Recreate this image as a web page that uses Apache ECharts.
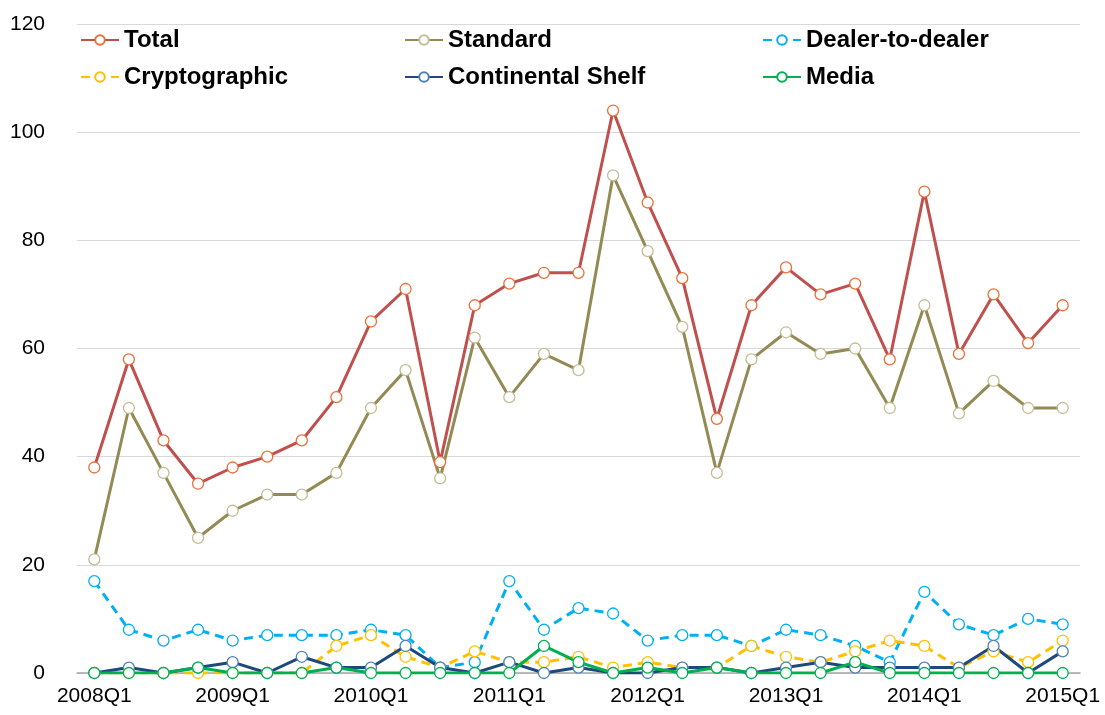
<!DOCTYPE html>
<html>
<head>
<meta charset="utf-8">
<script src="https://cdn.jsdelivr.net/npm/echarts@6/dist/echarts.min.js"></script>
<style>
  html, body { margin: 0; padding: 0; background: #fff; }
  #chart-box { width: 1105px; height: 715px; }
</style>
</head>
<body>
<div id="chart-box"></div>
<script>
const quarters = [
  '2008Q1', '2008Q2', '2008Q3', '2008Q4',
  '2009Q1', '2009Q2', '2009Q3', '2009Q4',
  '2010Q1', '2010Q2', '2010Q3', '2010Q4',
  '2011Q1', '2011Q2', '2011Q3', '2011Q4',
  '2012Q1', '2012Q2', '2012Q3', '2012Q4',
  '2013Q1', '2013Q2', '2013Q3', '2013Q4',
  '2014Q1', '2014Q2', '2014Q3', '2014Q4',
  '2015Q1'
]
const total = [38, 58, 43, 35, 38, 40, 43, 51, 65, 71, 39, 68, 72, 74, 74, 104, 87, 73, 47, 68, 75, 70, 72, 58, 89, 59, 70, 61, 68]
const standard = [21, 49, 37, 25, 30, 33, 33, 37, 49, 56, 36, 62, 51, 59, 56, 92, 78, 64, 37, 58, 63, 59, 60, 49, 68, 48, 54, 49, 49]
const dealer = [17, 8, 6, 8, 6, 7, 7, 7, 8, 7, 1, 2, 17, 8, 12, 11, 6, 7, 7, 5, 8, 7, 5, 2, 15, 9, 7, 10, 9]
const crypto = [0, 0, 0, 0, 0, 0, 0, 5, 7, 3, 1, 4, 2, 2, 3, 1, 2, 1, 1, 5, 3, 2, 4, 6, 5, 1, 4, 2, 6]
const shelf = [0, 1, 0, 1, 2, 0, 3, 1, 1, 5, 1, 0, 2, 0, 1, 0, 0, 1, 1, 0, 1, 2, 1, 1, 1, 1, 5, 0, 4]
const media = [0, 0, 0, 1, 0, 0, 0, 1, 0, 0, 0, 0, 0, 5, 2, 0, 1, 0, 1, 0, 0, 0, 2, 0, 0, 0, 0, 0, 0]

const makeLine = (name, data, lineColor, markColor, dashed) => ({
  name: name,
  type: 'line',
  data: data,
  symbol: 'circle',
  symbolSize: 11,
  lineStyle: { color: lineColor, width: 3, type: dashed ? [9, 6] : 'solid' },
  itemStyle: { color: '#ffffff', borderColor: markColor, borderWidth: 1.3 }
})

const legendText = { fontFamily: 'Liberation Sans', fontWeight: 'bold', fontSize: 24, color: '#000', lineHeight: 24 }
const makeLegend = (left, names) => ({
  orient: 'vertical',
  left: left,
  top: 28,
  padding: 0,
  itemWidth: 38,
  itemHeight: 12,
  itemGap: 13,
  textStyle: legendText,
  data: names
})

const chart = echarts.init(document.getElementById('chart-box'))
chart.setOption({
  animation: false,
  legend: [
    makeLegend(80, ['Total', 'Cryptographic']),
    makeLegend(404, ['Standard', 'Continental Shelf']),
    makeLegend(762, ['Dealer-to-dealer', 'Media'])
  ],
  grid: { left: 77, right: 25, top: 24, bottom: 42 },
  xAxis: {
    type: 'category',
    data: quarters,
    boundaryGap: true,
    axisLine: { lineStyle: { color: '#A6A6A6', width: 1.5 } },
    axisTick: { interval: 0, length: 5, lineStyle: { color: '#A6A6A6' } },
    axisLabel: { interval: 3, margin: 13, fontFamily: 'Liberation Sans', fontSize: 21, color: '#000' }
  },
  yAxis: {
    type: 'value',
    min: 0,
    max: 120,
    interval: 20,
    axisLine: { show: false },
    axisTick: { show: false },
    splitLine: { lineStyle: { color: '#D9D9D9', width: 1 } },
    axisLabel: { margin: 32, fontFamily: 'Liberation Sans', fontSize: 21, color: '#000' }
  },
  series: [
    makeLine('Total', total, '#C0504D', '#E8703A', false),
    makeLine('Standard', standard, '#948A54', '#C4BD97', false),
    makeLine('Dealer-to-dealer', dealer, '#00B0F0', '#00B0F0', true),
    makeLine('Cryptographic', crypto, '#FFC000', '#FFC000', true),
    makeLine('Continental Shelf', shelf, '#1F497D', '#4F81BD', false),
    makeLine('Media', media, '#00B050', '#00B050', false)
  ]
})
</script>
</body>
</html>
